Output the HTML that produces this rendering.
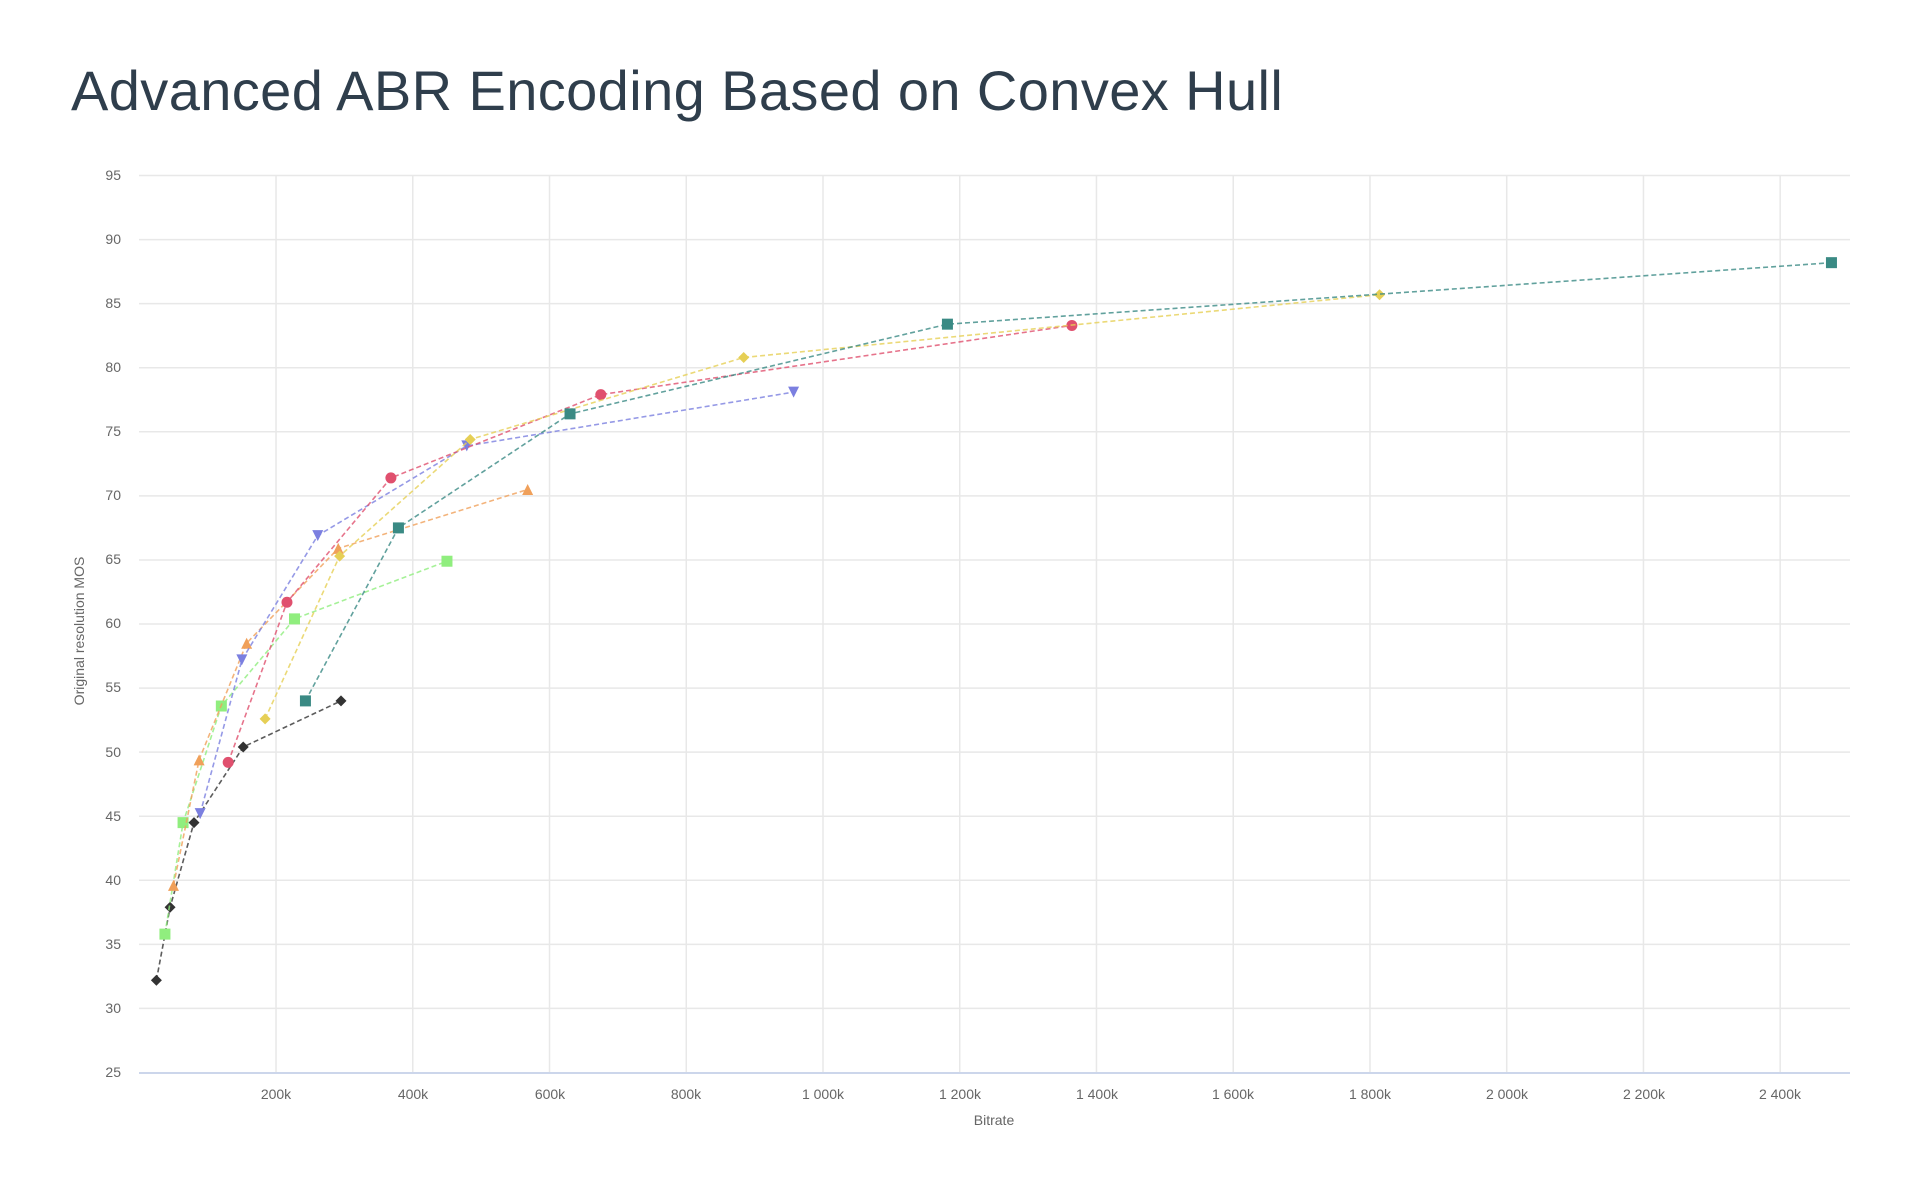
<!DOCTYPE html>
<html><head><meta charset="utf-8"><style>
html,body{margin:0;padding:0;background:#fff;}
body{width:1920px;height:1179px;position:relative;overflow:hidden;font-family:"Liberation Sans",sans-serif;}
h1{position:absolute;left:71px;top:58px;margin:0;font-weight:400;font-size:56px;color:#2f3e4c;letter-spacing:0.4px;}
svg{position:absolute;left:0;top:0;}
.t{font-size:14px;fill:#666;font-family:"Liberation Sans",sans-serif;}
</style></head><body>
<h1>Advanced ABR Encoding Based on Convex Hull</h1>
<svg id="s" width="1920" height="1179">
<g id="grid"></g>
<g class="t" text-anchor="end">
<text x="121" y="180">95</text><text x="121" y="244">90</text><text x="121" y="308">85</text><text x="121" y="372">80</text><text x="121" y="436">75</text><text x="121" y="500">70</text><text x="121" y="564">65</text><text x="121" y="628">60</text><text x="121" y="692">55</text><text x="121" y="757">50</text><text x="121" y="821">45</text><text x="121" y="885">40</text><text x="121" y="949">35</text><text x="121" y="1013">30</text><text x="121" y="1077">25</text>
</g>
<g class="t" text-anchor="middle">
<text x="276" y="1099">200k</text><text x="413" y="1099">400k</text><text x="550" y="1099">600k</text><text x="686" y="1099">800k</text><text x="823" y="1099">1 000k</text><text x="960" y="1099">1 200k</text><text x="1097" y="1099">1 400k</text><text x="1233" y="1099">1 600k</text><text x="1370" y="1099">1 800k</text><text x="1507" y="1099">2 000k</text><text x="1644" y="1099">2 200k</text><text x="1780" y="1099">2 400k</text>
<text x="994" y="1125">Bitrate</text>
<text transform="translate(84,631) rotate(-90)">Original resolution MOS</text>
</g>
<g id="data"></g>
</svg>
<script>
var X=function(v){return 139.3+v*0.6837},Y=function(m){return 1072.5-(m-25)*12.814};
var g='';
for(var m=30;m<=95;m+=5)g+='<line x1="139" x2="1850" y1="'+Y(m)+'" y2="'+Y(m)+'" stroke="#e8e8e8" stroke-width="1.5"/>';
for(var v=200;v<=2400;v+=200)g+='<line y1="175" y2="1072" x1="'+X(v)+'" x2="'+X(v)+'" stroke="#e8e8e8" stroke-width="1.5"/>';
g+='<line x1="139" x2="1850" y1="1073" y2="1073" stroke="#ccd6eb" stroke-width="2"/>';
document.getElementById('grid').innerHTML=g;
var S=[
['#333','dia',[[25,32.2],[45,37.9],[80,44.5],[152,50.4],[295,54.0]]],
['#90ee7e','sq',[[37.5,35.8],[64,44.5],[120,53.6],[227,60.4],[450,64.9]]],
['#f0a05a','tri',[[50,39.6],[87.5,49.4],[157,58.5],[291,65.9],[568,70.5]]],
['#7b7fe0','dtri',[[89,45.2],[150,57.2],[261,66.9],[479,73.9],[957,78.1]]],
['#e0506e','c',[[130,49.2],[216,61.7],[368,71.4],[675,77.9],[1364,83.3]]],
['#e6cf55','dia',[[184,52.6],[293,65.3],[484,74.4],[884,80.8],[1814,85.7]]],
['#3a8a84','sq',[[243,54.0],[379,67.5],[630,76.4],[1182,83.4],[2475,88.2]]]];
var d='';
S.forEach(function(s){
 var p=s[2].map(function(q){return X(q[0]).toFixed(1)+','+Y(q[1]).toFixed(1)}).join(' ');
 d+='<polyline points="'+p+'" fill="none" stroke="'+s[0]+'" stroke-opacity="0.8" stroke-width="1.6" stroke-dasharray="5,3"/>';
 s[2].forEach(function(q){var x=X(q[0]),y=Y(q[1]),r=5.5,c=s[0];
  if(s[1]=='c')d+='<circle cx="'+x+'" cy="'+y+'" r="'+r+'" fill="'+c+'"/>';
  else if(s[1]=='sq')d+='<rect x="'+(x-r)+'" y="'+(y-r)+'" width="'+2*r+'" height="'+2*r+'" fill="'+c+'"/>';
  else if(s[1]=='dia')d+='<polygon points="'+x+','+(y-r)+' '+(x+r)+','+y+' '+x+','+(y+r)+' '+(x-r)+','+y+'" fill="'+c+'"/>';
  else if(s[1]=='tri')d+='<polygon points="'+x+','+(y-r)+' '+(x+r)+','+(y+r)+' '+(x-r)+','+(y+r)+'" fill="'+c+'"/>';
  else d+='<polygon points="'+x+','+(y+r)+' '+(x+r)+','+(y-r)+' '+(x-r)+','+(y-r)+'" fill="'+c+'"/>';
 });
});
document.getElementById('data').innerHTML=d;
</script>
</body></html>
